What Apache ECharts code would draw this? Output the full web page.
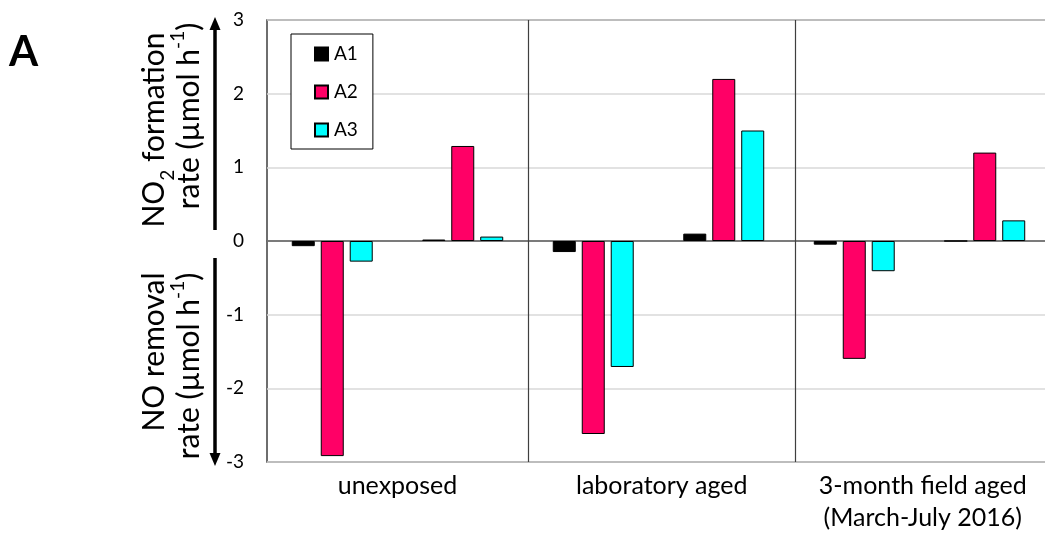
<!DOCTYPE html>
<html>
<head>
<meta charset="utf-8">
<title>NO removal and NO2 formation rates</title>
<script src="https://cdn.jsdelivr.net/npm/echarts@6/dist/echarts.min.js"></script>
<style>
  html, body { margin: 0; padding: 0; background: #fff; }
  #chart { width: 1045px; height: 533px; }
</style>
</head>
<body>
<div id="chart"></div>
<script>
// Sample groups (x-axis labels)
const groups = ['unexposed', 'laboratory aged', '3-month field aged\n(March-July 2016)'];
const seriesNames = ['A1', 'A2', 'A3'];

// NO removal rates (µmol h-1), drawn downwards
const removalA1 = [-0.07, -0.15, -0.05];
const removalA2 = [-2.92, -2.62, -1.60];
const removalA3 = [-0.28, -1.71, -0.41];

// NO2 formation rates (µmol h-1), drawn upwards
const formationA1 = [0.02, 0.10, 0.00];
const formationA2 = [1.29, 2.20, 1.20];
const formationA3 = [0.06, 1.50, 0.28];

// y-axis range and step
const yMin = -3, yMax = 3, yStep = 1;

// Group boundaries on the 0..6 slot scale (two slots per group)
const groupEdges = [0, 2, 4.05, 6];

const colors = ['#000000', '#FF0066', '#00FFFF'];
const FONT = 'Lato';

// Each group holds a removal slot followed by a formation slot
const slots = [];
groups.forEach((g) => { slots.push(g + ' removal', g + ' formation'); });
function interleave(rem, form) {
  const out = [];
  rem.forEach((v, i) => { out.push(rem[i], form[i]); });
  return out;
}
const barData = [
  interleave(removalA1, formationA1),
  interleave(removalA2, formationA2),
  interleave(removalA3, formationA3)
];

// Label centres sit midway between the group boundaries
const labelCenters = groups.map((g, i) => (groupEdges[i] + groupEdges[i + 1]) / 2);
const innerEdges = groupEdges.slice(1, -1);

const chart = echarts.init(document.getElementById('chart'), null, { renderer: 'canvas' });

const barSeries = seriesNames.map((name, k) => ({
  name: name,
  type: 'bar',
  xAxisIndex: 0,
  yAxisIndex: 0,
  data: barData[k],
  barWidth: 23,
  barGap: '26%',
  itemStyle: { color: colors[k], borderColor: '#000', borderWidth: 1 },
  emphasis: { disabled: true },
  z: 3
}));

const option = {
  animation: false,
  backgroundColor: '#fff',
  grid: {
    left: 267, top: 20, bottom: 71, width: 783,
    outerBoundsMode: 'none',
    containLabel: false,
    show: true, borderColor: '#3f3f3f', borderWidth: 1.5, backgroundColor: 'transparent'
  },
  legend: {
    data: seriesNames,
    orient: 'vertical',
    left: 291, top: 34,
    backgroundColor: '#fff',
    borderColor: '#000', borderWidth: 1,
    padding: [9, 15, 8, 23],
    itemWidth: 13, itemHeight: 13, itemGap: 16,
    icon: 'rect',
    textStyle: { fontFamily: FONT, fontSize: 19, lineHeight: 22, color: '#000', padding: [0, 0, 0, 1] },
    selectedMode: false
  },
  xAxis: [
    {
      type: 'category',
      data: slots,
      position: 'top',
      axisLine: { show: true, onZero: true, lineStyle: { color: '#595959', width: 1.5 } },
      axisTick: { show: false },
      axisLabel: { show: false },
      splitLine: { show: false }
    },
    {
      type: 'value',
      min: groupEdges[0], max: groupEdges[groupEdges.length - 1],
      position: 'bottom',
      axisLine: { show: false, onZero: false },
      axisTick: { show: false },
      splitLine: { show: false },
      axisLabel: {
        customValues: labelCenters,
        formatter: (v) => groups[labelCenters.findIndex(c => Math.abs(c - v) < 1e-6)],
        fontFamily: FONT, fontSize: 25, color: '#000', lineHeight: 32, margin: 8
      }
    }
  ],
  yAxis: {
    type: 'value',
    min: yMin, max: yMax, interval: yStep,
    axisLine: { show: false },
    axisTick: { show: false },
    axisLabel: { fontFamily: FONT, fontSize: 19, color: '#000', margin: 23 },
    splitLine: { show: true, lineStyle: { color: '#d9d9d9', width: 1.5 } }
  },
  series: barSeries.concat([{
    name: 'group dividers',
    type: 'line',
    xAxisIndex: 1,
    yAxisIndex: 0,
    data: [],
    silent: true,
    markLine: {
      silent: true,
      symbol: 'none',
      label: { show: false },
      lineStyle: { color: '#3f3f3f', width: 1.2, type: 'solid' },
      data: innerEdges.map(e => ({ xAxis: e }))
    }
  }]),
  graphic: [
    // panel letter
    {
      type: 'text', left: 9, top: 31,
      style: { text: 'A', font: 'bold 42px ' + FONT, fill: '#000' }
    },
    // upper axis title
    {
      type: 'text', x: 154, y: 130, rotation: Math.PI / 2,
      style: {
        text: 'NO{sub|2} formation', align: 'center', verticalAlign: 'middle',
        font: '30px ' + FONT, fill: '#000',
        rich: { sub: { fontSize: 19, fontFamily: FONT, verticalAlign: 'bottom', padding: [0, 0, -8, 0] } }
      }
    },
    {
      type: 'text', x: 189, y: 116, rotation: Math.PI / 2,
      style: {
        text: 'rate (µmol h{sup|-1})', align: 'center', verticalAlign: 'middle',
        font: '30px ' + FONT, fill: '#000',
        rich: { sup: { fontSize: 19, fontFamily: FONT, verticalAlign: 'top', padding: [-6, 0, 0, 0] } }
      }
    },
    // lower axis title
    {
      type: 'text', x: 154, y: 352, rotation: Math.PI / 2,
      style: {
        text: 'NO removal', align: 'center', verticalAlign: 'middle',
        font: '30px ' + FONT, fill: '#000'
      }
    },
    {
      type: 'text', x: 189, y: 366, rotation: Math.PI / 2,
      style: {
        text: 'rate (µmol h{sup|-1})', align: 'center', verticalAlign: 'middle',
        font: '30px ' + FONT, fill: '#000',
        rich: { sup: { fontSize: 19, fontFamily: FONT, verticalAlign: 'top', padding: [-6, 0, 0, 0] } }
      }
    },
    // direction arrows
    { type: 'line', shape: { x1: 215, y1: 230, x2: 215, y2: 27 }, style: { stroke: '#000', lineWidth: 3.5 } },
    { type: 'polygon', shape: { points: [[215, 17], [209.5, 30], [220.5, 30]] }, style: { fill: '#000' } },
    { type: 'line', shape: { x1: 215, y1: 258, x2: 215, y2: 455 }, style: { stroke: '#000', lineWidth: 3.5 } },
    { type: 'polygon', shape: { points: [[215, 466], [209.5, 453], [220.5, 453]] }, style: { fill: '#000' } }
  ]
};

chart.setOption(option);
</script>
</body>
</html>
